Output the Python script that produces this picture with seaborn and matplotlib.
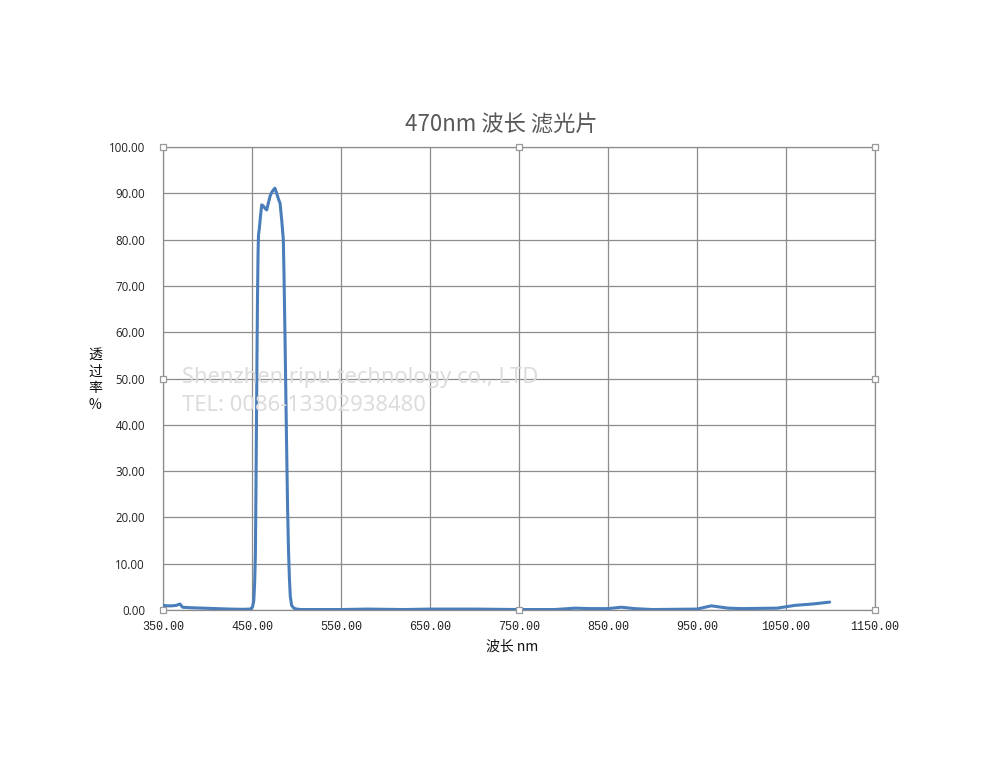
import matplotlib
matplotlib.use("Agg")
import matplotlib.pyplot as plt
import seaborn as sns
import numpy as np
import pandas as pd

# ---- data ----
wavelength = [350, 355, 360, 365, 369, 372, 380, 395, 410, 425, 440, 448, 450.5, 452, 453,
              453.8, 454.4, 455, 455.6, 456.2, 456.8, 457.3, 458.3, 459.5, 460.9, 462.5, 464.5,
              466.5, 468.5, 470.5, 472.5, 473.9, 475.8, 478, 480, 481.5, 483.4, 485.2, 486,
              487, 488, 489, 490, 491, 492, 493, 494.5, 497, 500, 505, 520, 550, 580, 620,
              650, 700, 750, 790, 813, 830, 850, 865, 880, 900, 950, 966, 985, 1000, 1040,
              1060, 1080, 1099]
transmittance = [1.0, 0.9, 0.9, 1.0, 1.3, 0.6, 0.5, 0.4, 0.3, 0.2, 0.15, 0.2, 0.6, 2, 6,
                 12, 25, 40, 55, 68, 77, 81, 82.5, 85, 87.5, 87.3, 86.8,
                 86.4, 88, 89.5, 90.3, 90.7, 91.1, 89.8, 88.6, 87.9, 84.2, 80, 72,
                 60, 47, 34, 22, 13, 7, 3, 1, 0.4, 0.2, 0.1, 0.1, 0.1, 0.2, 0.1,
                 0.2, 0.2, 0.1, 0.1, 0.4, 0.3, 0.3, 0.6, 0.3, 0.1, 0.2, 0.9, 0.4, 0.3, 0.4,
                 1.0, 1.3, 1.7]
x_ticks = [350, 450, 550, 650, 750, 850, 950, 1050, 1150]
y_ticks = [0, 10, 20, 30, 40, 50, 60, 70, 80, 90, 100]
title = "470nm 波长 滤光片"
x_label = "波长 nm"
y_label = "透\n过\n率\n%"
watermark1 = "Shenzhen ripu technology co., LTD"
watermark2 = "TEL: 0086-13302938480"

df = pd.DataFrame({"wl": wavelength, "T": transmittance})

sns.set_style("white")
plt.rcParams['font.family'] = ['Noto Sans CJK SC', 'DejaVu Sans']

fig = plt.figure(figsize=(9.98, 7.74), dpi=100)
ax = fig.add_axes([163 / 998, 1 - 610 / 774, 712 / 998, 463 / 774])

sns.lineplot(data=df, x="wl", y="T", ax=ax, sort=False, estimator=None,
             color="#4a7ebb", linewidth=2.2, zorder=3)

grid_color = "#8c8c8c"
ax.set_xlim(350, 1150)
ax.set_ylim(0, 100)
ax.set_xticks(x_ticks)
ax.set_yticks(y_ticks)
ax.set_xticklabels([f"{v:.2f}" for v in x_ticks], family=['Liberation Mono', 'DejaVu Sans Mono'],
                   fontsize=8.5, color="#222222")
ax.set_yticklabels([f"{v:.2f}" for v in y_ticks], fontsize=8.3, color="#222222",
                   family=['Open Sans', 'DejaVu Sans'])
ax.tick_params(axis="both", length=0)
ax.tick_params(axis="y", pad=13)
ax.tick_params(axis="x", pad=8)
ax.grid(True, color=grid_color, linewidth=0.9)
for name, s in ax.spines.items():
    s.set_visible(True)
    s.set_color(grid_color)
    s.set_linewidth(0.9)
ax.set_xlabel("")
ax.set_ylabel("")

fig.text(501 / 998, 1 - 125 / 774, title, ha="center", va="center", fontsize=16, color="#595959")
fig.text(512 / 998, 1 - 647 / 774, x_label, ha="center", va="center", fontsize=10, color="#111111")
fig.text(95 / 998, 1 - 380 / 774, y_label, ha="center", va="center", fontsize=10,
         color="#111111", linespacing=1.25)

ax.text(182 / 998, 1 - 378 / 774, watermark1, transform=fig.transFigure, ha="left", va="center",
        fontsize=15.8, color="#dcdcdc", zorder=5, family=['Noto Sans', 'DejaVu Sans'])
ax.text(182 / 998, 1 - 405 / 774, watermark2, transform=fig.transFigure, ha="left", va="center",
        fontsize=15.8, color="#dcdcdc", zorder=5, family=['Noto Sans', 'DejaVu Sans'])

# selection handles (chart frame decoration)
hx = [0, 0.5, 1, 0, 1, 0, 0.5, 1]
hy = [1, 1, 1, 0.5, 0.5, 0, 0, 0]
ax.scatter(hx, hy, transform=ax.transAxes, marker="s", s=22, facecolor="white",
           edgecolor="#9a9a9a", linewidth=0.9, clip_on=False, zorder=6)

fig.savefig("out.png", dpi=100, facecolor="white")
